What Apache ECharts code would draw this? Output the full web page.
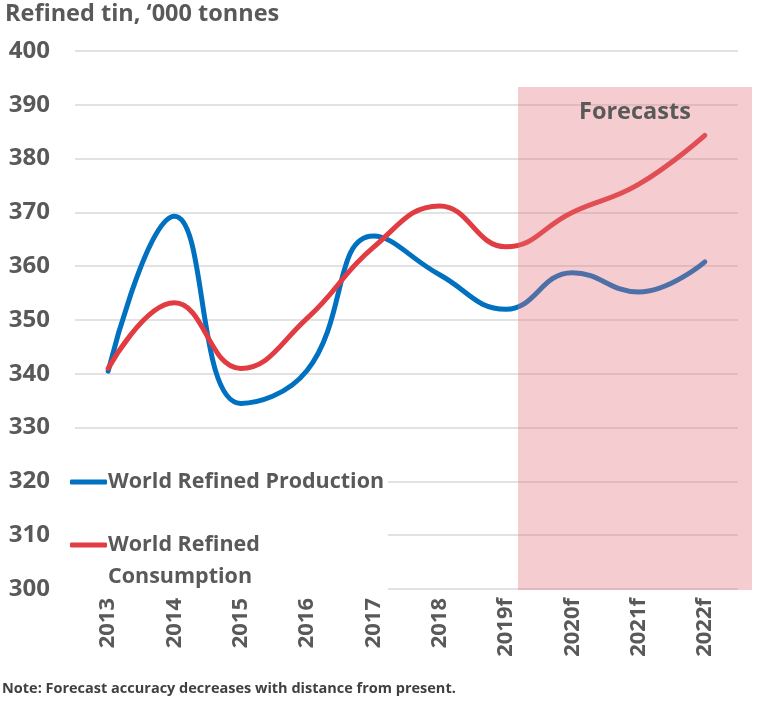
<!DOCTYPE html>
<html><head><meta charset="utf-8">
<script src="https://cdn.jsdelivr.net/npm/echarts@6/dist/echarts.min.js"></script>
<style>html,body{margin:0;padding:0;background:#fff}#c{width:777px;height:701px}</style>
</head><body><div id="c"></div>
<script>
const categories = ['2013','2014','2015','2016','2017','2018','2019f','2020f','2021f','2022f'];
const production = [340.5, 369.3, 334.5, 340.6, 365.6, 358.4, 352, 358.8, 355.2, 360.8];
const consumption = [341, 353.2, 341, 350.3, 363.5, 371.2, 363.6, 370, 375.2, 384.3];
const yTicks = {min: 300, max: 400, interval: 10};
const FONT = 'Open Sans';
const GRAY = '#595959';

const chart = echarts.init(document.getElementById('c'));
chart.setOption({
  animation: false,
  backgroundColor: '#fff',
  textStyle: {fontFamily: FONT},
  title: {
    text: 'Refined tin, \u2018000 tonnes', left: 0, top: -3,
    textStyle: {fontFamily: FONT, fontWeight: 'bold', fontSize: 23.5, color: GRAY}
  },
  grid: {left: 75, right: 39, top: 51, bottom: 112},
  xAxis: {
    type: 'category', data: categories, boundaryGap: true,
    axisLine: {show: false}, axisTick: {show: false},
    axisLabel: {rotate: 90, margin: 9, fontFamily: FONT, fontWeight: 'bold', fontSize: 22, color: GRAY}
  },
  yAxis: {
    type: 'value', min: yTicks.min, max: yTicks.max, interval: yTicks.interval,
    axisLine: {show: false}, axisTick: {show: false},
    axisLabel: {margin: 25, fontFamily: FONT, fontWeight: 'bold', fontSize: 24, color: GRAY},
    splitLine: {lineStyle: {color: '#d9d9d9', width: 1.5}}
  },
  legend: [{
    data: ['World Refined Production'], orient: 'vertical', left: 65, top: 466,
    icon: 'roundRect',
    backgroundColor: '#fff', itemWidth: 37, itemHeight: 5, itemGap: 0, padding: [5, 4, 5, 5],
    textStyle: {fontFamily: FONT, fontWeight: 'bold', fontSize: 21.5, color: GRAY, padding: [0, 0, 0, -4]}
  }, {
    data: ['World Refined Consumption'], orient: 'vertical', left: 65, top: 492,
    icon: 'roundRect',
    backgroundColor: '#fff', itemWidth: 37, itemHeight: 5, padding: [5, 128, 0, 5],
    formatter: () => ' \nWorld Refined\nConsumption',
    textStyle: {fontFamily: FONT, fontWeight: 'bold', fontSize: 21.5, lineHeight: 32, color: GRAY, padding: [0, 0, 0, -4]}
  }],
  graphic: [{
    type: 'rect', z: 10, silent: true,
    shape: {x: 518, y: 87, width: 234, height: 503},
    style: {fill: 'rgba(226,112,121,0.35)'}
  }, {
    type: 'text', z: 11, left: 579, top: 100,
    style: {text: 'Forecasts', fill: GRAY, font: 'bold 23.5px "Open Sans"'}
  }],
  series: [{
    name: 'World Refined Production', type: 'line', data: production,
    smooth: 0.45, symbol: 'none', lineStyle: {color: '#0070c0', width: 5, cap: 'round'},
    itemStyle: {color: '#0070c0'}
  }, {
    name: 'World Refined Consumption', type: 'line', data: consumption,
    smooth: 0.45, symbol: 'none', lineStyle: {color: '#e03c41', width: 5, cap: 'round'},
    itemStyle: {color: '#e03c41'}
  }]
});
</script>
<div style="position:absolute;left:2px;top:678px;font:bold 14.5px 'Open Sans';color:#404040;white-space:nowrap">Note: Forecast accuracy decreases with distance from present.</div>
</body></html>
